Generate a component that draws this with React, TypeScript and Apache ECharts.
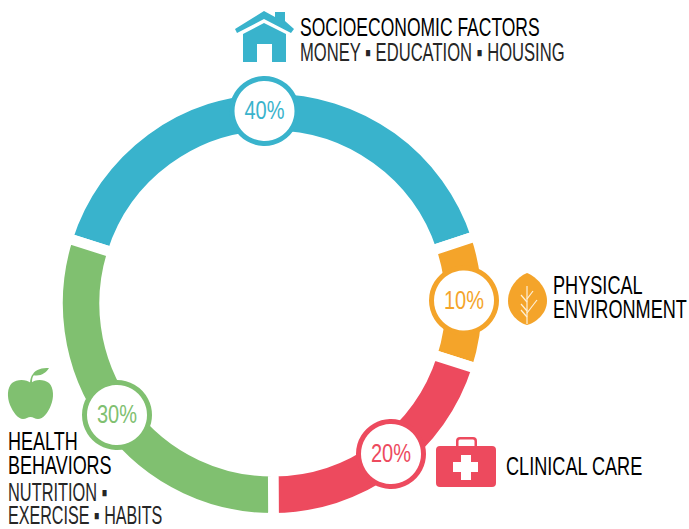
import React, { useEffect, useRef } from "react";
import * as echarts from "echarts";

const categories = ["Socioeconomic Factors", "Physical Environment", "Clinical Care", "Health Behaviors"];
const shares = [40, 10, 20, 30];
const headingLabels = ["SOCIOECONOMIC FACTORS", "PHYSICAL", "ENVIRONMENT", "CLINICAL CARE", "HEALTH", "BEHAVIORS"];
const detailLabels = ["MONEY ▪ EDUCATION ▪ HOUSING", "NUTRITION ▪", "EXERCISE ▪ HABITS"];

const colors = ["#39B3CC", "#F4A42A", "#ED4A5E", "#80C070"];
const badgeCenters = [[264.5, 111], [464, 300.5], [391, 454], [117, 415]];
const headingLayout = [
  [300, 36, 0.7],
  [553, 294, 0.725],
  [553, 318, 0.725],
  [506, 475, 0.725],
  [8, 450, 0.72],
  [8, 474, 0.72],
];
const detailLayout = [
  [300, 61, 0.664],
  [8, 501, 0.655],
  [8, 524, 0.645],
];

const FONT = "'Liberation Sans', sans-serif";

const housePath =
  "M264 11 L275 17 L275 12 L285 12 L285 21 L294 29 L291 33 L264 19 L237 33 L235 29 Z M264 23 L286 34 L286 62 L272 62 L272 44 L257 44 L257 62 L243 62 L243 34 Z";
const leafPath =
  "M527 273 C537 277 547 288 547 301 C547 314 535 323 527 325 C519 323 508 314 508 301 C508 288 517 277 527 273 Z";
const kitPath =
  "M456 446 L456 441 Q456 437 460 437 L473 437 Q477 437 477 441 L477 446 L492 446 Q496 446 496 450 L496 483 Q496 487 492 487 L440 487 Q436 487 436 483 L436 450 Q436 446 440 446 Z M458.5 446 L474.5 446 L474.5 441 Q474.5 439.5 473 439.5 L460 439.5 Q458.5 439.5 458.5 441 Z M461 455 L461 462 L453 462 L453 472 L461 472 L461 480 L471 480 L471 472 L478 472 L478 462 L471 462 L471 455 Z";
const applePath =
  "M31 383 C35 379 44 379 49 383 C54 388 54 398 51 405 C48 413 43 419 38 419 C35 419 33 417 30.5 417 C28 417 26 419 23 419 C18 419 13 412 10 405 C7 397 7 388 12 383 C17 379 26 379 31 383 Z M30 383 C30 380 31 376 33 374 L34 375 C32 377 32 380 32 383 Z M33 374 C36 369 42 368 49 368 C46 373 40 377 33 375 Z";

export default function App() {
  const ref = useRef<HTMLDivElement>(null);
  useEffect(() => {
    const make = (d: string) => (echarts.graphic as any).extendPath(d, {});
    echarts.graphic.registerShape("houseIcon", make(housePath));
    echarts.graphic.registerShape("leafIcon", make(leafPath));
    echarts.graphic.registerShape("kitIcon", make(kitPath));
    echarts.graphic.registerShape("appleIcon", make(applePath));

    const chart = echarts.init(ref.current!, undefined, { renderer: "svg" });
    const textEl = (text: string, pos: number[], fill: string) => ({
      type: "text",
      x: pos[0],
      y: pos[1] + 4,
      scaleX: pos[2],
      z: 10,
      style: {
        text,
        fill,
        font: `normal 25px ${FONT}`,
        textAlign: "left",
        textVerticalAlign: "bottom",
      },
    });
    const vein = (a: number, b: number, c: number, d: number) => ({
      type: "line",
      z: 11,
      shape: { x1: a, y1: b, x2: c, y2: d },
      style: { stroke: "#FDF0D8", lineWidth: 1.2 },
    });

    chart.setOption({
      animation: false,
      backgroundColor: "#ffffff",
      series: [
        {
          type: "pie",
          center: [272.3, 303.5],
          radius: [167.75, 214.75],
          startAngle: 162.3,
          clockwise: true,
          silent: true,
          label: { show: false },
          labelLine: { show: false },
          itemStyle: { borderColor: "#ffffff", borderWidth: 10.5 },
          data: shares.map((v, i) => ({ value: v, name: categories[i], itemStyle: { color: colors[i] } })),
        },
      ],
      graphic: {
        elements: [
          ...shares.flatMap((v, i) => [
            {
              type: "circle",
              z: 5,
              shape: { cx: badgeCenters[i][0], cy: badgeCenters[i][1], r: 32.5 },
              style: { fill: "#ffffff", stroke: colors[i], lineWidth: 5 },
            },
            {
              type: "text",
              z: 6,
              x: badgeCenters[i][0],
              y: badgeCenters[i][1],
              scaleX: 0.8,
              style: {
                text: `${v}%`,
                fill: colors[i],
                font: `normal 25px ${FONT}`,
                textAlign: "center",
                textVerticalAlign: "middle",
              },
            },
          ]),
          { type: "houseIcon", x: 0, y: 0, z: 9, style: { fill: colors[0] } },
          { type: "leafIcon", x: 0, y: 0, z: 9, style: { fill: colors[1] } },
          vein(527, 286, 527, 324),
          vein(521, 295, 527, 302),
          vein(533, 291, 527, 299),
          vein(521, 304, 527, 311),
          vein(537, 300, 527, 313),
          vein(521, 310, 527, 317),
          { type: "kitIcon", x: 0, y: 0, z: 9, style: { fill: colors[2] } },
          { type: "appleIcon", x: 0, y: 0, z: 9, style: { fill: colors[3] } },
          ...headingLabels.map((t, i) => textEl(t, headingLayout[i], "#000000")),
          ...detailLabels.map((t, i) => textEl(t, detailLayout[i], "#262626")),
        ],
      },
    });
    return () => chart.dispose();
  }, []);
  return <div ref={ref} style={{ position: "fixed", left: 0, top: 0, width: 689, height: 529 }} />;
}
